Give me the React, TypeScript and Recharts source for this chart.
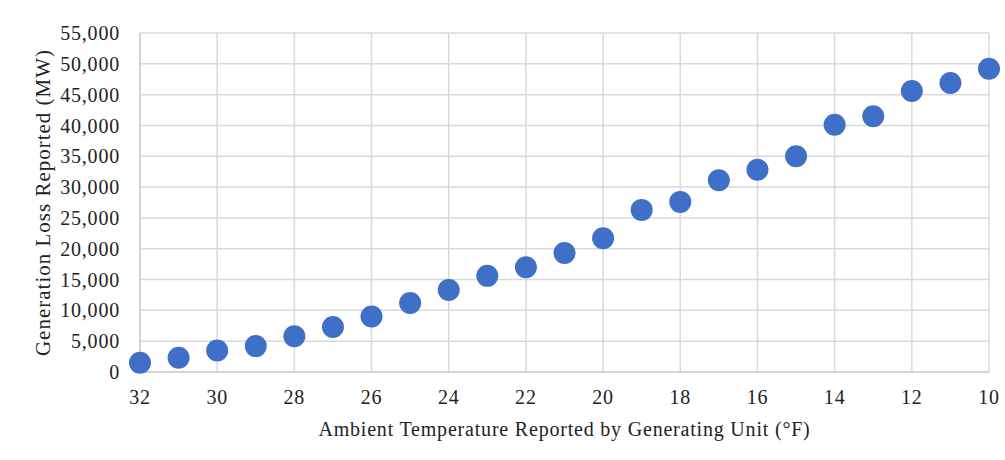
import React from 'react';
import { ScatterChart, Scatter, XAxis, YAxis, CartesianGrid } from 'recharts';

const temperatures = [32, 31, 30, 29, 28, 27, 26, 25, 24, 23, 22, 21, 20, 19, 18, 17, 16, 15, 14, 13, 12, 11, 10];
const generationLoss = [1500, 2300, 3500, 4200, 5800, 7300, 9000, 11200, 13300, 15600, 17000, 19300, 21700, 26300, 27600, 31100, 32800, 35000, 40100, 41500, 45600, 46900, 49200];
const xTicks = [32, 30, 28, 26, 24, 22, 20, 18, 16, 14, 12, 10];
const yTicks = [0, 5000, 10000, 15000, 20000, 25000, 30000, 35000, 40000, 45000, 50000, 55000];

const data = temperatures.map((t, i) => ({ temp: t, loss: generationLoss[i] }));

const font = '"Liberation Serif", "Times New Roman", serif';

export default function App() {
  return (
    <div style={{ position: 'absolute', left: 0, top: 0, width: 1005, height: 460, background: '#fff' }}>
      <ScatterChart width={1005} height={460} margin={{ top: 33, right: 16, bottom: 18, left: 20 }}>
        <CartesianGrid stroke="#d9d9d9" strokeWidth={1.5} />
        <XAxis
          type="number"
          dataKey="temp"
          domain={[10, 32]}
          ticks={xTicks}
          reversed
          height={70}
          tickLine={false}
          axisLine={{ stroke: '#d0d0d0', strokeWidth: 1.5 }}
          tick={{ fill: '#222', fontSize: 20, fontFamily: font, letterSpacing: 0.8 }}
          tickMargin={12}
          label={{ value: 'Ambient Temperature Reported by Generating Unit (°F)', position: 'insideBottom', offset: 6, fill: '#222', fontSize: 20, fontFamily: font, letterSpacing: 0.8 }}
        />
        <YAxis
          type="number"
          dataKey="loss"
          domain={[0, 55000]}
          ticks={yTicks}
          width={120}
          tickLine={false}
          axisLine={{ stroke: '#d0d0d0', strokeWidth: 1.5 }}
          tick={{ fill: '#222', fontSize: 20, fontFamily: font, letterSpacing: 0.8 }}
          tickMargin={14}
          tickFormatter={(v: number) => v.toLocaleString('en-US')}
          label={{ value: 'Generation Loss Reported (MW)', angle: -90, position: 'insideLeft', offset: 23, style: { textAnchor: 'middle' }, fill: '#222', fontSize: 21, fontFamily: font, letterSpacing: 1 }}
        />
        <Scatter
          data={data}
          fill="#3F6FC6"
          isAnimationActive={false}
          shape={(props: any) => <circle cx={props.cx} cy={props.cy} r={11} fill="#3F6FC6" />}
        />
      </ScatterChart>
    </div>
  );
}
